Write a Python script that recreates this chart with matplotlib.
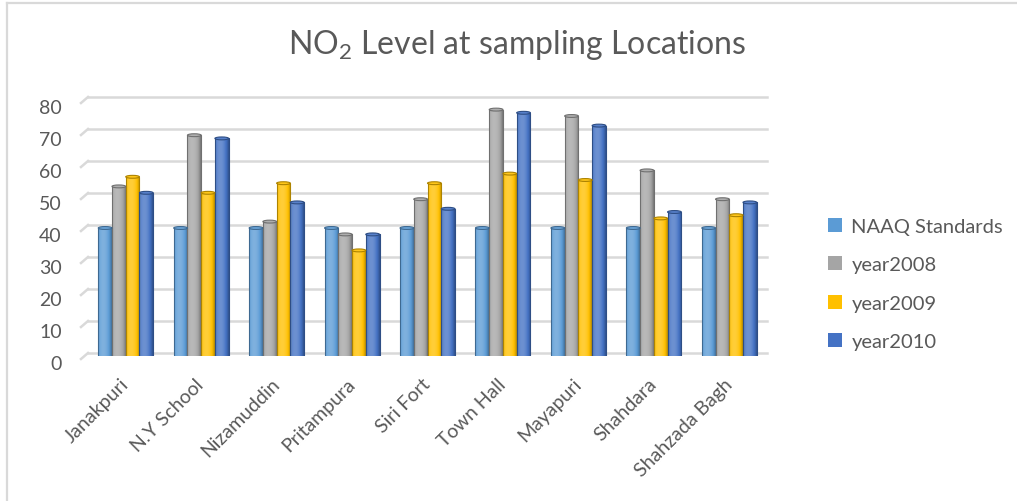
import numpy as np
import matplotlib
matplotlib.use("Agg")
import matplotlib.pyplot as plt
from matplotlib.patches import Ellipse, Patch
from matplotlib.lines import Line2D
import matplotlib.transforms as mtransforms

plt.rcParams['font.family'] = ['Lato', 'DejaVu Sans']
plt.rcParams['mathtext.fontset'] = 'custom'
plt.rcParams['mathtext.rm'] = 'Lato'

locations = ["Janakpuri", "N.Y School", "Nizamuddin", "Pritampura", "Siri Fort",
             "Town Hall", "Mayapuri", "Shahdara", "Shahzada Bagh"]
naaq_standards = [40, 40, 40, 40, 40, 40, 40, 40, 40]
year2008 = [53, 69, 42, 38, 49, 77, 75, 58, 49]
year2009 = [56, 51, 54, 33, 54, 57, 55, 43, 44]
year2010 = [51, 68, 48, 38, 46, 76, 72, 45, 48]
series_names = ["NAAQ Standards", "year2008", "year2009", "year2010"]
y_ticks = [0, 10, 20, 30, 40, 50, 60, 70, 80]

series = [naaq_standards, year2008, year2009, year2010]
colors = ["#5B9BD5", "#A5A5A5", "#FFC000", "#4472C4"]
text_gray = "#595959"
grid_gray = "#D9D9D9"

W, H = 1017, 502
fig = plt.figure(figsize=(W / 100, H / 100), dpi=100)
fig.patch.set_facecolor("white")

# outer chart-area frame (runs off the right and bottom edges)
frame_kw = dict(color=grid_gray, lw=1.6, transform=fig.transFigure)
fig.add_artist(Line2D([7 / W, 1.0], [1 - 4 / H, 1 - 4 / H], **frame_kw))
fig.add_artist(Line2D([7 / W, 7 / W], [1 - 4 / H, 0.0], **frame_kw))

ax_w_px, ax_h_px = 679, 256
ax = fig.add_axes([88 / W, 1 - 357 / H, ax_w_px / W, ax_h_px / H])
ax.set_xlim(-0.5, len(locations) - 0.5)
ax.set_ylim(0, 80)
for s in ax.spines.values():
    s.set_visible(False)

# back-wall gridlines sit a few pixels above the front face of the columns
wall_lift = 3 / ax_h_px
for v in y_ticks:
    yf = v / 80 + wall_lift
    ax.add_line(Line2D([0, 1], [yf, yf], transform=ax.transAxes,
                       color=grid_gray, lw=1.8, clip_on=False, zorder=0))
    # short receding side-wall stroke at the left end of each gridline
    ax.add_line(Line2D([-7 / ax_w_px, 0], [yf - 6 / ax_h_px, yf],
                       transform=ax.transAxes, color=grid_gray, lw=1.8,
                       clip_on=False, zorder=0))


def shade(rgb, k):
    rgb = np.asarray(rgb)
    if k >= 0:
        return rgb + (1 - rgb) * k
    return rgb * (1 + k)


def cylinder_image(color, n=40):
    base = np.array(matplotlib.colors.to_rgb(color))
    t = np.linspace(0, 1, n)
    k = 0.22 - 0.5 * ((t - 0.38) / 0.62) ** 2
    row = np.array([shade(base, kk) for kk in k])
    return row[np.newaxis, :, :]


n_series = len(series)
bar_w = 0.182
x = np.arange(len(locations))
for i, (vals, col) in enumerate(zip(series, colors)):
    offs = (i - (n_series - 1) / 2) * bar_w
    rgb = matplotlib.colors.to_rgb(col)
    edge = shade(rgb, -0.32)
    bars = ax.bar(x + offs, vals, width=bar_w, color=col, edgecolor="none",
                  zorder=2)
    img = cylinder_image(col)
    for b in bars:
        x0, w, h = b.get_x(), b.get_width(), b.get_height()
        im = ax.imshow(img, extent=[x0, x0 + w, 0, h], aspect="auto",
                       zorder=3, interpolation="bilinear")
        im.set_clip_path(b)
        ax.add_line(Line2D([x0, x0, x0 + w, x0 + w], [0, h, h, 0],
                           color=edge, lw=0.8, zorder=3.5))
        ax.add_patch(Ellipse((x0 + w / 2, h), w, 0.9,
                             facecolor=shade(rgb, 0.1),
                             edgecolor=edge, lw=0.8, zorder=4))
ax.set_xlim(-0.5, len(locations) - 0.5)
ax.set_ylim(0, 80)

ax.set_yticks(y_ticks)
ax.set_yticklabels([str(v) for v in y_ticks])
ax.tick_params(axis="y", length=0, pad=19, labelsize=14, labelcolor=text_gray)
shift = mtransforms.ScaledTranslation(0, -6 / 100, fig.dpi_scale_trans)
for lab in ax.get_yticklabels():
    lab.set_transform(lab.get_transform() + shift)

ax.set_xticks(x)
ax.set_xticklabels(locations, rotation=45, ha="right", rotation_mode="anchor",
                   va="center")
ax.tick_params(axis="x", length=0, pad=18, labelsize=14, labelcolor=text_gray)

fig.text(517 / W, 1 - 45 / H, r"NO$_\mathregular{2}$ Level at sampling Locations",
         ha="center", va="center", fontsize=23, color=text_gray)

handles = [Patch(facecolor=c, edgecolor="none") for c in colors]
fig.legend(handles, series_names, loc="center left",
           bbox_to_anchor=(810 / W, 1 - 285 / H), frameon=False,
           fontsize=14.5, labelcolor=text_gray, handlelength=0.7,
           handleheight=0.7, handletextpad=0.45, labelspacing=1.05)

fig.savefig("out.png", dpi=100, facecolor="white")
